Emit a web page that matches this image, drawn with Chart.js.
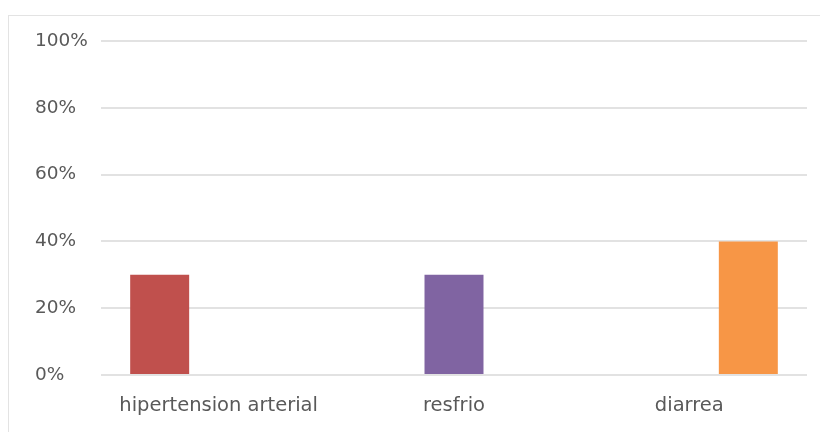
<!DOCTYPE html>
<html>
<head>
<meta charset="utf-8">
<script src="https://cdn.jsdelivr.net/npm/chart.js@4.4.0/dist/chart.umd.min.js"></script>
<style>
  html, body { margin: 0; padding: 0; background: #fff; }
  #wrap { position: relative; width: 820px; height: 432px; overflow: hidden; }
  #frame { position: absolute; left: 8px; top: 15px; width: 830px; height: 440px; border: 1px solid #e3e3e3; box-sizing: border-box; }
  #myChart { position: absolute; left: 0; top: 0; }
</style>
</head>
<body>
<div id="wrap">
  <div id="frame"></div>
  <canvas id="myChart" width="820" height="432"></canvas>
</div>
<script>
const categories = ["hipertension arterial", "resfrio", "diarrea"];
const percentValues = [30, 30, 40];
const barColors = ["#C0504D", "#8064A2", "#F79646"];
const yTicks = [0, 20, 40, 60, 80, 100];

// one dataset per category so each bar sits in its own slot of the group
const datasets = categories.map((name, i) => ({
  label: name,
  data: categories.map((c, j) => (j === i ? percentValues[i] : null)),
  backgroundColor: barColors[i],
  barPercentage: 1,
  categoryPercentage: 0.752
}));

new Chart("myChart", {
  type: "bar",
  data: { labels: categories, datasets: datasets },
  options: {
    responsive: false,
    animation: false,
    layout: { padding: { top: 41, right: 13, left: 35, bottom: 0 } },
    plugins: { legend: { display: false }, tooltip: { enabled: false } },
    scales: {
      x: {
        grid: { display: false },
        border: { display: false },
        ticks: { color: "#595959", font: { family: "DejaVu Sans", size: 19.5 }, padding: 11, maxRotation: 0 },
        afterFit: s => { s.height = 57; }
      },
      y: {
        min: 0,
        max: 100,
        afterBuildTicks: s => { s.ticks = yTicks.map(v => ({ value: v })); },
        grid: { color: "#e2e2e2", lineWidth: 2, drawTicks: false },
        border: { display: false },
        ticks: { color: "#595959", font: { family: "DejaVu Sans", size: 18.5 }, crossAlign: "far", callback: v => v + "%" },
        afterFit: s => { s.width = 66; }
      }
    }
  }
});
</script>
</body>
</html>
